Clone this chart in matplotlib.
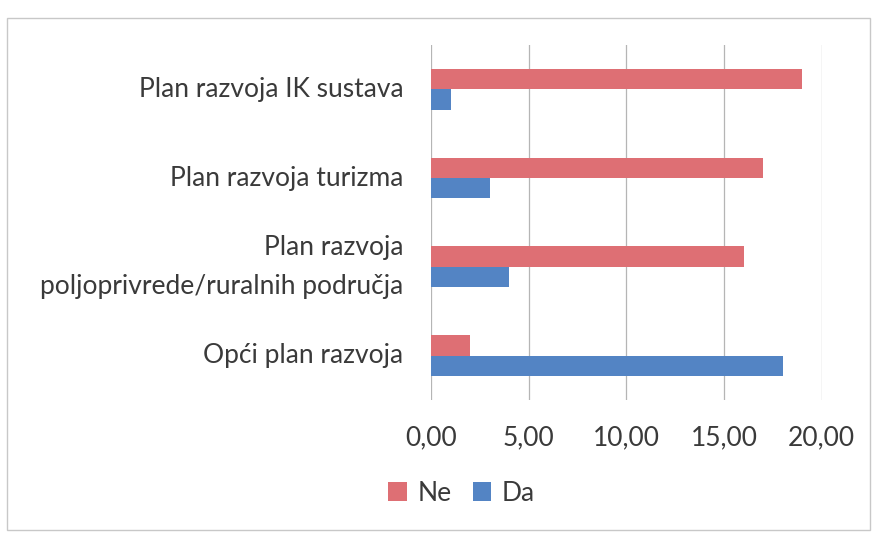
import matplotlib
matplotlib.use("Agg")
import matplotlib.pyplot as plt
import numpy as np
from matplotlib.patches import Rectangle

categories = ["Plan razvoja IK sustava", "Plan razvoja turizma",
              "Plan razvoja\npoljoprivrede/ruralnih područja", "Opći plan razvoja"]
ne_values = [19, 17, 16, 2]
da_values = [1, 3, 4, 18]
xticks = [0, 5, 10, 15, 20]
xtick_labels = ["0,00", "5,00", "10,00", "15,00", "20,00"]

RED = "#DE6F74"
BLUE = "#5384C4"
TXT = "#3a3a3a"

plt.rcParams['font.family'] = ['Lato', 'DejaVu Sans']

fig = plt.figure(figsize=(8.76, 5.36), dpi=100)
ax = fig.add_axes([0.492, 0.254, 0.446, 0.662])

y = np.arange(len(categories))
h = 0.23
ax.barh(y - h / 2, ne_values, height=h, color=RED, label="Ne", zorder=3)
ax.barh(y + h / 2, da_values, height=h, color=BLUE, label="Da", zorder=3)
ax.set_ylim(len(categories) - 0.5, -0.5)
ax.set_yticks(y)
ax.set_yticklabels(categories, fontsize=19, color=TXT, linespacing=1.7, va='center')
ax.set_xlim(0, 20)
ax.set_xticks(xticks)
ax.set_xticklabels(xtick_labels, fontsize=19, color=TXT)
ax.tick_params(axis='both', length=0)
ax.tick_params(axis='y', pad=20)
ax.tick_params(axis='x', pad=18)
ax.grid(axis='x', color='#b5b5b5', linewidth=0.9, zorder=0)
for s in ax.spines.values():
    s.set_visible(False)

leg = fig.legend(loc='center', bbox_to_anchor=(0.527, 0.08), ncol=2, frameon=False,
                 fontsize=19, handlelength=0.7, handleheight=0.7, handletextpad=0.4,
                 columnspacing=0.8)
for t in leg.get_texts():
    t.set_color(TXT)

fig.patches.append(Rectangle((0.008, 0.012), 0.985, 0.955, transform=fig.transFigure,
                             fill=False, edgecolor='#c8c8c8', linewidth=1.0))

fig.savefig("out.png", dpi=100)
